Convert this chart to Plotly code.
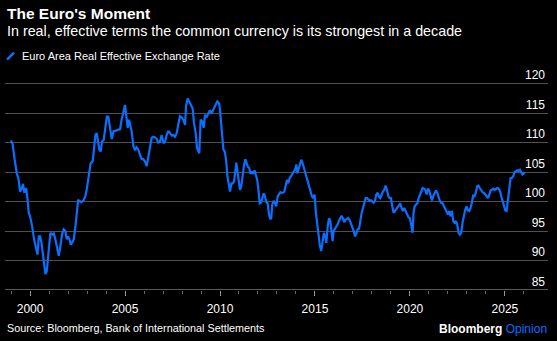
import plotly.graph_objects as go

# Decimal years and Euro Area Real Effective Exchange Rate values
years = [
    1999.00, 1999.09, 1999.19, 1999.30, 1999.40, 1999.47, 1999.54, 1999.63, 1999.70, 1999.79,
    1999.84, 1999.93, 2000.00, 2000.11, 2000.21, 2000.32, 2000.39, 2000.46, 2000.53, 2000.60,
    2000.67, 2000.74, 2000.81, 2000.88, 2000.95, 2001.02, 2001.07, 2001.16, 2001.25, 2001.33,
    2001.42, 2001.51, 2001.60, 2001.68, 2001.77, 2001.86, 2001.93, 2002.00, 2002.07, 2002.14,
    2002.21, 2002.30, 2002.39, 2002.46, 2002.53, 2002.60, 2002.70, 2002.82, 2002.91, 2002.98,
    2003.05, 2003.12, 2003.19, 2003.30, 2003.37, 2003.44, 2003.51, 2003.58, 2003.65, 2003.72,
    2003.79, 2003.88, 2003.96,
    2004.04, 2004.12, 2004.21, 2004.30, 2004.39, 2004.47, 2004.61, 2004.74, 2004.82, 2004.91,
    2005.00, 2005.07, 2005.14, 2005.21, 2005.28, 2005.35, 2005.44, 2005.53, 2005.61, 2005.70,
    2005.79, 2005.88, 2005.96, 2006.05, 2006.14, 2006.23, 2006.32, 2006.40, 2006.49, 2006.58,
    2006.67, 2006.75, 2006.84, 2006.93, 2007.02, 2007.11, 2007.19, 2007.28, 2007.37, 2007.46,
    2007.54, 2007.63, 2007.72, 2007.81, 2007.89, 2007.98, 2008.07, 2008.16, 2008.21, 2008.30,
    2008.39, 2008.47, 2008.56, 2008.63, 2008.72, 2008.79, 2008.86, 2008.91, 2008.98, 2009.07,
    2009.14, 2009.21, 2009.30, 2009.39, 2009.47, 2009.56, 2009.65, 2009.74,
    2009.86, 2009.95, 2010.00, 2010.05, 2010.12, 2010.18, 2010.25, 2010.32, 2010.39, 2010.46,
    2010.53, 2010.60, 2010.67, 2010.74, 2010.79, 2010.86, 2010.91, 2010.98, 2011.05, 2011.12,
    2011.19, 2011.26, 2011.33, 2011.40, 2011.47, 2011.54, 2011.61, 2011.68, 2011.75, 2011.82,
    2011.89, 2011.96, 2012.04, 2012.09, 2012.16, 2012.23, 2012.30, 2012.37, 2012.44, 2012.51,
    2012.58, 2012.65, 2012.70, 2012.75, 2012.82, 2012.89, 2012.96, 2013.04, 2013.11, 2013.18,
    2013.25, 2013.32, 2013.39, 2013.46, 2013.53, 2013.60, 2013.67, 2013.74, 2013.81, 2013.88,
    2013.95, 2014.02, 2014.07, 2014.14, 2014.21, 2014.28, 2014.35, 2014.42, 2014.49, 2014.56,
    2014.63, 2014.70, 2014.77, 2014.84, 2014.91, 2014.98,
    2015.05, 2015.12, 2015.19, 2015.26, 2015.33, 2015.40, 2015.47, 2015.54, 2015.60, 2015.67,
    2015.74, 2015.81, 2015.88, 2015.93, 2015.98, 2016.05, 2016.12, 2016.19, 2016.26, 2016.33,
    2016.40, 2016.47, 2016.54, 2016.61, 2016.68, 2016.75, 2016.82, 2016.89, 2016.96, 2017.04,
    2017.11, 2017.18, 2017.25, 2017.32, 2017.39, 2017.46, 2017.53, 2017.60, 2017.67, 2017.74,
    2017.81, 2017.88, 2017.95, 2018.02, 2018.09, 2018.16, 2018.23, 2018.30, 2018.37, 2018.44,
    2018.51, 2018.58, 2018.65, 2018.72, 2018.79, 2018.86, 2018.93, 2019.00, 2019.07, 2019.14,
    2019.21, 2019.28, 2019.35, 2019.42, 2019.49, 2019.56, 2019.63, 2019.70, 2019.77, 2019.84,
    2019.93, 2020.00, 2020.07, 2020.14, 2020.19, 2020.25, 2020.32, 2020.39, 2020.46, 2020.53,
    2020.60, 2020.67, 2020.74, 2020.81, 2020.88, 2020.95, 2021.02, 2021.09, 2021.16, 2021.23,
    2021.30, 2021.37, 2021.44, 2021.51, 2021.58, 2021.65, 2021.72, 2021.79, 2021.86, 2021.93,
    2022.00, 2022.07, 2022.14, 2022.21, 2022.28, 2022.35, 2022.42, 2022.49, 2022.56, 2022.63,
    2022.70, 2022.77, 2022.84, 2022.91, 2022.98, 2023.05, 2023.12, 2023.19, 2023.26, 2023.33,
    2023.40, 2023.47, 2023.54, 2023.61, 2023.68, 2023.75, 2023.82, 2023.89, 2023.96, 2024.04,
    2024.11, 2024.18, 2024.25, 2024.32, 2024.39, 2024.46, 2024.53, 2024.60, 2024.67, 2024.74,
    2024.81, 2024.88, 2024.95, 2025.02, 2025.09, 2025.16, 2025.23, 2025.30, 2025.37, 2025.44,
    2025.51, 2025.58, 2025.65, 2025.72, 2025.79, 2025.86, 2025.93, 2026.00, 2026.04,
]
reer = [
    110.4, 109.6, 107.1, 104.8, 103.7, 101.7, 102.0, 103.0, 101.5, 102.3,
    101.2, 98.1, 97.5, 95.8, 93.6, 91.9, 91.0, 94.1, 94.1, 93.0,
    91.3, 89.1, 87.7, 88.2, 90.8, 93.0, 94.7, 94.4, 94.6, 93.6,
    91.9, 90.8, 92.5, 94.4, 95.3, 95.0, 93.6, 94.1, 93.6, 92.7,
    93.0, 93.6, 95.8, 98.1, 100.3, 100.1, 99.9, 100.2, 100.9, 102.0,
    103.7, 105.4, 106.5, 106.9, 109.4, 111.3, 111.6, 110.5, 108.8, 108.5,
    110.2, 110.5, 112.5,
    114.4, 114.4, 112.7, 110.6, 111.9, 112.0, 112.1, 112.3, 113.9, 115.3,
    116.4, 114.4, 112.5, 113.9, 113.0, 111.9, 109.4, 108.7, 109.2, 108.8,
    107.9, 107.2, 107.2, 106.8, 106.0, 107.7, 109.4, 110.8, 111.0, 110.9,
    110.6, 110.0, 110.2, 111.3, 109.9, 110.2, 111.3, 112.0, 111.6, 111.2,
    111.3, 111.0, 111.6, 113.0, 114.5, 114.3, 113.9, 113.0, 116.1, 117.5,
    116.9, 116.4, 115.8, 113.3, 111.6, 109.1, 108.5, 108.2, 113.9, 113.6,
    112.5, 114.7, 114.4, 115.0, 115.5, 115.0, 115.5, 116.2,
    117.0, 116.7, 115.5, 113.3, 111.0, 108.8, 108.5, 107.1, 104.3, 102.6,
    101.7, 103.1, 103.1, 103.4, 104.8, 106.6, 105.4, 103.1, 102.0, 102.6,
    104.8, 106.0, 107.2, 106.5, 105.9, 105.7, 104.7, 105.1, 104.7, 105.3,
    104.6, 103.7, 101.5, 99.7, 99.8, 100.9, 101.4, 100.9, 99.9, 99.7,
    97.8, 97.0, 97.2, 99.5, 100.1, 99.8, 99.2, 100.9, 101.2, 101.6,
    101.5, 101.5, 101.7, 102.9, 103.7, 103.1, 104.0, 104.3, 104.8, 105.1,
    105.4, 106.3, 104.8, 105.7, 106.3, 107.1, 106.5, 105.7, 104.8, 104.0,
    103.1, 102.6, 101.5, 100.9, 100.6, 101.2,
    98.1, 95.8, 94.1, 92.5, 91.6, 93.6, 94.7, 94.1, 93.0, 95.8,
    97.2, 96.7, 94.1, 93.3, 95.0, 95.3, 95.8, 96.1, 96.7, 97.2,
    97.6, 97.2, 96.5, 96.9, 97.0, 97.2, 96.9, 96.4, 95.7, 95.0,
    94.1, 94.6, 95.3, 95.4, 96.9, 98.1, 98.9, 99.8, 100.6, 100.6,
    100.3, 100.1, 100.2, 99.9, 99.8, 100.1, 101.2, 101.5, 100.8, 100.6,
    101.2, 101.7, 102.0, 102.7, 102.0, 100.9, 100.6, 100.6, 99.2, 98.1,
    98.4, 98.7, 98.9, 99.2, 99.7, 98.9, 98.4, 98.9, 98.4, 98.1,
    97.3, 97.2, 95.8, 94.7, 98.1, 99.2, 99.5, 99.7, 100.6, 101.2,
    101.5, 102.3, 102.2, 102.0, 101.2, 102.2, 101.8, 100.9, 100.2, 100.9,
    101.5, 101.9, 101.5, 100.6, 100.1, 99.8, 99.7, 99.2, 98.8, 98.4,
    97.8, 98.4, 97.5, 98.4, 96.7, 96.4, 96.7, 96.1, 94.7, 94.4,
    94.7, 96.4, 97.8, 98.6, 99.2, 98.5, 98.4, 98.9, 99.8, 101.0,
    100.9, 101.5, 102.6, 102.7, 102.3, 101.8, 101.6, 101.5, 101.2, 100.9,
    100.6, 101.2, 101.9, 102.0, 102.2, 102.0, 102.2, 102.3, 102.2, 101.8,
    100.9, 100.1, 99.2, 98.5, 98.4, 100.1, 102.0, 104.0, 104.0, 104.3,
    105.0, 105.2, 105.3, 105.2, 105.4, 105.0, 104.6, 104.8, 105.0,
]

y_ticks = [85, 90, 95, 100, 105, 110, 115, 120]
x_ticks = [2000, 2005, 2010, 2015, 2020, 2025]

title = "The Euro's Moment"
subtitle = "In real, effective terms the common currency is its strongest in a decade"
series_name = "Euro Area Real Effective Exchange Rate"
source = "Source: Bloomberg, Bank of International Settlements"

BLUE = "#0a6eff"
FONT = "Liberation Sans, Arial, sans-serif"

# Layout geometry (pixels)
W, H = 557, 341
L, R = 5, 548          # plot left / right edge
Y_TOP_VAL, Y_BOT_VAL = 123, 85
PX_PER_UNIT = 206 / 35
BOTTOM = 290
TOP = BOTTOM - (Y_TOP_VAL - Y_BOT_VAL) * PX_PER_UNIT
PW, PH = R - L, BOTTOM - TOP


def px(x):
    return (x - L) / PW


def py(y):
    return (BOTTOM - y) / PH


fig = go.Figure()
fig.add_trace(go.Scatter(
    x=years, y=reer, mode="lines", name=series_name,
    line=dict(color=BLUE, width=2.2), showlegend=False,
))

fig.update_layout(
    width=W, height=H,
    paper_bgcolor="black", plot_bgcolor="black",
    margin=dict(l=L, r=W - R, t=TOP, b=H - BOTTOM),
    font=dict(family=FONT, color="white", size=11),
    xaxis=dict(
        range=[1998.68, 2027.27], tickmode="array", tickvals=x_ticks,
        ticktext=[str(v) for v in x_ticks],
        showgrid=False, zeroline=False,
        showline=False,
        ticks="outside", ticklen=5, tickcolor="#9a9a9a", tickwidth=1,
        minor=dict(dtick=1, tick0=1999, ticks="outside", ticklen=3,
                   tickcolor="#6a6a6a", tickwidth=1, showgrid=False),
        tickfont=dict(size=12, color="white", family=FONT),
        ticklabelstandoff=3,
        fixedrange=True,
    ),
    yaxis=dict(
        range=[Y_BOT_VAL, Y_TOP_VAL], tickmode="array", tickvals=y_ticks,
        side="right", ticklabelposition="inside top",
        showgrid=True, gridcolor="#505050", gridwidth=1.3,
        zeroline=False, showline=False, ticks="",
        tickfont=dict(size=12, color="white", family=FONT),
        fixedrange=True,
    ),
    showlegend=False,
)

# Bottom axis line (slightly lighter than grid)
fig.add_shape(type="line", xref="paper", yref="y", x0=0, x1=1, y0=85, y1=85,
              line=dict(color="#7a7a7a", width=1.3), layer="below")

# Legend icon
fig.add_shape(type="line", xref="paper", yref="paper",
              x0=px(7), x1=px(14), y0=py(60), y1=py(53),
              line=dict(color=BLUE, width=2.5))

annos = [
    dict(text=f"<b>{title}</b>", x=5, y=3, size=15.5),
    dict(text=subtitle, x=5, y=21, size=14.3),
    dict(text=series_name, x=20, y=48, size=11),
    dict(text=source, x=5, y=320, size=10.8),
]
for a in annos:
    fig.add_annotation(
        text=a["text"], xref="paper", yref="paper",
        x=px(a["x"]), y=py(a["y"]),
        xanchor="left", yanchor="top", showarrow=False,
        font=dict(size=a["size"], color="white", family=FONT),
    )

fig.add_annotation(
    text=f"<b>Bloomberg</b> <span style='color:{BLUE}'>Opinion</span>",
    xref="paper", yref="paper", x=px(549), y=py(320),
    xanchor="right", yanchor="top", showarrow=False,
    font=dict(size=12, color="white", family=FONT),
)

fig.write_html("out.html")
